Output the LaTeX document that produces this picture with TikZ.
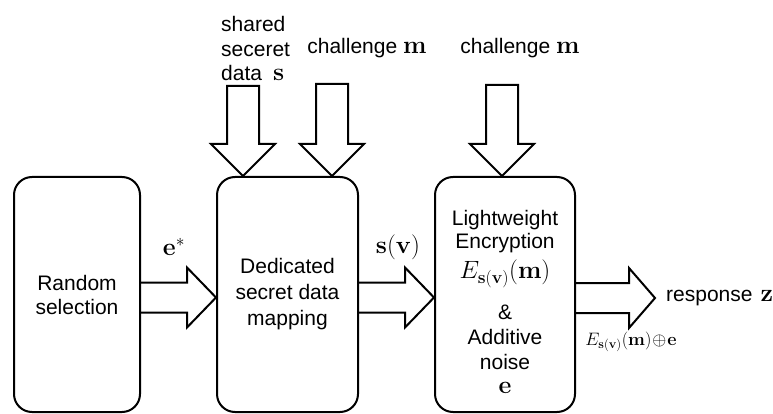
\RequirePackage{fix-cm}
\documentclass[tikz,border=0pt]{standalone}
\usepackage[no-math]{fontspec}
\newfontfamily\lsans{Liberation Sans}
\usetikzlibrary{calc}

% larger bold math symbols used in the labels
\newcommand\mbig[1]{{\fontsize{25}{25}\selectfont$#1$}}

% horizontal block arrow: #1 = tail point (x used), #2 = tip point, #3 = head length
\newcommand\hfat[3]{%
  \draw[fatline] let \p1=#1, \p2=#2 in
    (\x1,\y2+15pt) -- (\x2-#3,\y2+15pt) -- (\x2-#3,\y2+30pt) -- (\x2,\y2)
    -- (\x2-#3,\y2-30pt) -- (\x2-#3,\y2-15pt) -- (\x1,\y2-15pt);}

% vertical (downward) block arrow: #1 = top of shaft (y used), #2 = tip point
\newcommand\vfat[2]{%
  \draw[fatline] let \p1=#1, \p2=#2 in
    (\x2-16pt,\y1) -- (\x2-16pt,\y2+32pt) -- (\x2-32pt,\y2+32pt) -- (\x2,\y2)
    -- (\x2+32pt,\y2+32pt) -- (\x2+16pt,\y2+32pt) -- (\x2+16pt,\y1) -- cycle;}

\begin{document}
\begin{tikzpicture}[x=1pt,y=1pt,
  stage/.style={draw, line width=2pt, rounded corners=18pt, minimum height=235pt,
    align=center, inner sep=0pt, font=\lsans\fontsize{21}{24}\selectfont},
  fatline/.style={line width=2pt, line join=miter},
  lbl/.style={inner sep=0pt, font=\lsans\fontsize{21}{24.5}\selectfont},
  mlbl/.style={inner sep=0pt}]
\useasboundingbox (0,0) rectangle (773,-414);

% processing stages
\node[stage, minimum width=126pt] (rs) at (77,-294.5) {Random\\selection};
\node[stage, minimum width=141pt, font=\lsans\fontsize{21}{26}\selectfont] (dm) at (287.5,-294.5)
  {Dedicated\\secret data\\mapping};
\node[stage, minimum width=140pt, font=\lsans\fontsize{21}{25}\selectfont] (le) at (505,-294.5)
  {\rule{0pt}{30pt}Lightweight\\[-2pt]Encryption\\[5pt]\mbig{E_{\mathbf{s(v)}}(\mathbf{m})}\\[16pt]\&\\Additive\\noise\\[-1pt]\mbig{\mathbf{e}}};

% inputs from above
\coordinate (t1) at (244,-86);
\coordinate (t2) at (331.5,-84);
\coordinate (t3) at (502,-85);
\vfat{(t1)}{([xshift=-44.5pt]dm.north)}
\vfat{(t2)}{([xshift=44.5pt]dm.north)}
\vfat{(t3)}{([xshift=-3pt]le.north)}

\node[lbl, align=left, anchor=west] (sh) at (221,-48.5)
  {shared\\seceret\\data\hspace{11pt}\mbig{\mathbf{s}}};
\node[lbl] (c1) at (367,-48) {challenge\hspace{6pt}\mbig{\mathbf{m}}};
\node[lbl] (c2) at (520,-48) {challenge\hspace{6pt}\mbig{\mathbf{m}}};

% data flow between stages
\hfat{(rs.east)}{([yshift=-3pt]dm.west)}{29pt}
\hfat{(dm.east)}{([yshift=-3pt]le.west)}{29pt}
\coordinate (resp) at (655,-298);
\hfat{(le.east)}{(resp)}{26pt}

\node[mlbl] (es) at (174,-247) {\mbig{\mathbf{e}^*}};
\node[mlbl] (sv) at (398,-247) {\mbig{\mathbf{s}(\mathbf{v})}};
\node[lbl, anchor=west] (rz) at ([xshift=11pt]resp) {response\hspace{8pt}\mbig{\mathbf{z}}};
\node[mlbl] (ez) at (631,-342)
  {{\fontsize{18}{18}\selectfont$E_{\mathbf{s(v)}}(\mathbf{m})\!\oplus\!\mathbf{e}$}};
\end{tikzpicture}
\end{document}
